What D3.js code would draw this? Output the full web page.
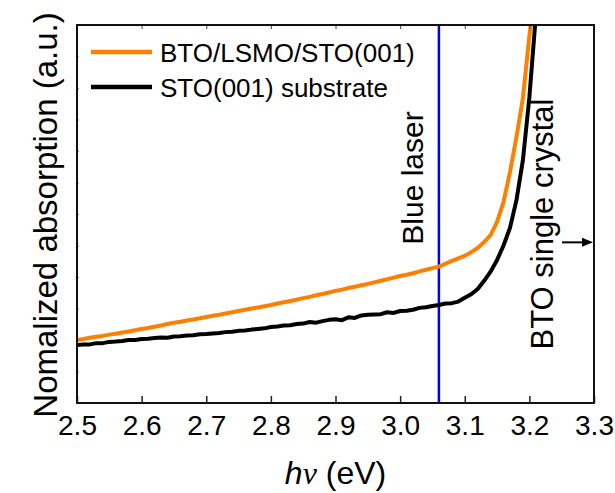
<!DOCTYPE html>
<html><head><meta charset="utf-8">
<script src="https://cdn.jsdelivr.net/npm/d3@7"></script>
<style>body{margin:0;background:#fff}svg{display:block}</style>
</head><body><svg id="c" width="615" height="493"></svg>
<script>
// ---- data ----
const energyA = [2.50,2.51,2.52,2.53,2.54,2.55,2.56,2.57,2.58,2.59,2.60,2.61,2.62,2.63,2.64,2.65,2.66,2.67,2.68,2.69,2.70,2.71,2.72,2.73,2.74,2.75,2.76,2.77,2.78,2.79,2.80,2.81,2.82,2.83,2.84,2.85,2.86,2.87,2.88,2.89,2.90,2.91,2.92,2.93,2.94,2.95,2.96,2.97,2.98,2.99,3.00,3.01,3.02,3.03,3.04,3.05,3.06,3.07,3.08,3.09,3.10,3.11,3.12,3.13,3.14,3.15,3.16,3.17,3.18,3.19,3.20,3.205];
const filmAbs = [2.00,2.03,2.07,2.10,2.13,2.17,2.20,2.24,2.27,2.31,2.35,2.38,2.42,2.46,2.51,2.55,2.58,2.62,2.65,2.69,2.73,2.77,2.80,2.84,2.88,2.92,2.96,3.00,3.03,3.07,3.11,3.16,3.20,3.24,3.28,3.33,3.37,3.42,3.46,3.51,3.56,3.60,3.65,3.69,3.74,3.78,3.83,3.88,3.93,3.98,4.03,4.07,4.12,4.18,4.23,4.28,4.33,4.42,4.51,4.59,4.67,4.79,4.92,5.11,5.33,5.75,6.38,7.33,8.44,9.68,11.65,12.5];
const energyB = [2.50,2.51,2.52,2.53,2.54,2.55,2.56,2.57,2.58,2.59,2.60,2.61,2.62,2.63,2.64,2.65,2.66,2.67,2.68,2.69,2.70,2.71,2.72,2.73,2.74,2.75,2.76,2.77,2.78,2.79,2.80,2.81,2.82,2.83,2.84,2.85,2.86,2.87,2.88,2.89,2.90,2.91,2.92,2.93,2.94,2.95,2.96,2.97,2.98,2.99,3.00,3.01,3.02,3.03,3.04,3.05,3.06,3.07,3.08,3.09,3.10,3.11,3.12,3.13,3.14,3.15,3.16,3.17,3.18,3.19,3.20,3.21];
const substrateAbs = [1.84,1.86,1.86,1.90,1.90,1.94,1.95,1.97,2.00,2.00,2.03,2.04,2.06,2.08,2.07,2.11,2.12,2.14,2.15,2.18,2.19,2.21,2.22,2.25,2.26,2.29,2.30,2.33,2.35,2.37,2.41,2.43,2.46,2.47,2.51,2.52,2.57,2.55,2.60,2.64,2.66,2.63,2.72,2.70,2.78,2.80,2.81,2.82,2.88,2.86,2.92,2.93,2.96,3.02,3.04,3.08,3.11,3.16,3.17,3.22,3.34,3.45,3.62,3.88,4.17,4.54,5.00,5.56,6.44,7.71,9.71,12.3];
const xTicks = [2.5,2.6,2.7,2.8,2.9,3.0,3.1,3.2,3.3];
const yTicks = [1,2,3,4,5,6,7,8,9,10,11];
const seriesNames = ["BTO/LSMO/STO(001)","STO(001) substrate"];
const seriesColors = ["#ff8000","#000000"];
const laserEnergy = 3.06;
const btoGapArrowY = 5.1;

// ---- layout ----
const L=77, R=594, T=25, B=403;
const svg = d3.select("#c");
const x = d3.scaleLinear().domain([2.5,3.3]).range([L,R]);
const y = d3.scaleLinear().domain([0,12]).range([B,T]);
const font = "Liberation Sans, Arial, sans-serif";

svg.append("defs").append("clipPath").attr("id","clip")
  .append("rect").attr("x",L).attr("y",T).attr("width",R-L).attr("height",B-T);

const line = d3.line().x(d=>x(d[0])).y(d=>y(d[1]));
const g = svg.append("g").attr("clip-path","url(#clip)");

// blue laser line
g.append("line").attr("x1",x(laserEnergy)).attr("x2",x(laserEnergy)).attr("y1",T).attr("y2",B)
  .attr("stroke","#0000ff").attr("stroke-width",2.5);

g.append("path").datum(energyA.map((e,i)=>[e,filmAbs[i]])).attr("d",line)
  .attr("fill","none").attr("stroke",seriesColors[0]).attr("stroke-width",4).attr("stroke-linejoin","round");
g.append("path").datum(energyB.map((e,i)=>[e,substrateAbs[i]])).attr("d",line)
  .attr("fill","none").attr("stroke",seriesColors[1]).attr("stroke-width",4).attr("stroke-linejoin","round");

// axes
const axB = svg.append("g").attr("transform",`translate(0,${B})`)
  .call(d3.axisBottom(x).tickValues(xTicks).tickFormat(d3.format(".1f")).tickSizeInner(-7).tickSizeOuter(0).tickPadding(12));
axB.select(".domain").remove();
axB.selectAll("line").attr("stroke","#222").attr("stroke-width",1.5);
axB.selectAll("text").attr("font-family",font).attr("font-size",28).attr("fill","#000");

const axT = svg.append("g").attr("transform",`translate(0,${T})`)
  .call(d3.axisTop(x).tickValues(xTicks).tickFormat("").tickSizeInner(-4).tickSizeOuter(0));
axT.select(".domain").remove();
axT.selectAll("line").attr("stroke","#444").attr("stroke-width",1);

const axL = svg.append("g").attr("transform",`translate(${L},0)`)
  .call(d3.axisLeft(y).tickValues(yTicks).tickFormat("").tickSizeInner(-2).tickSizeOuter(0));
axL.select(".domain").remove();
axL.selectAll("line").attr("stroke","#888").attr("stroke-width",1);

// frame
svg.append("rect").attr("x",L).attr("y",T).attr("width",R-L).attr("height",B-T)
  .attr("fill","none").attr("stroke","#111").attr("stroke-width",2);

// legend
seriesNames.forEach((n,i)=>{
  const ly = 52 + i*35;
  svg.append("line").attr("x1",91).attr("x2",152).attr("y1",ly).attr("y2",ly)
    .attr("stroke",seriesColors[i]).attr("stroke-width",4.5);
  svg.append("text").attr("x",160).attr("y",ly+10).attr("font-family",font).attr("font-size",26).text(n);
});

// annotations
svg.append("text").attr("transform",`translate(423,${178}) rotate(-90)`).attr("text-anchor","middle")
  .attr("font-family",font).attr("font-size",30).text("Blue laser");
svg.append("text").attr("transform",`translate(553,${224}) rotate(-90)`).attr("text-anchor","middle")
  .attr("font-family",font).attr("font-size",31).text("BTO single crystal");

// arrow
const ay = y(btoGapArrowY);
svg.append("line").attr("x1",562).attr("x2",584).attr("y1",ay).attr("y2",ay).attr("stroke","#000").attr("stroke-width",2);
svg.append("path").attr("d",`M${R-1},${ay} L${R-12},${ay-4.5} L${R-12},${ay+4.5} Z`).attr("fill","#000");

// axis titles
svg.append("text").attr("transform",`translate(57,${215}) rotate(-90)`).attr("text-anchor","middle")
  .attr("font-family",font).attr("font-size",33).text("Nomalized absorption (a.u.)");
const xt = svg.append("text").attr("x",(L+R)/2).attr("y",484).attr("text-anchor","middle")
  .attr("font-family",font).attr("font-size",32);
xt.append("tspan").attr("font-style","italic").text("h");
xt.append("tspan").attr("font-family","Liberation Serif, serif").attr("font-style","italic").text("ν");
xt.append("tspan").text(" (eV)");
</script></body></html>
